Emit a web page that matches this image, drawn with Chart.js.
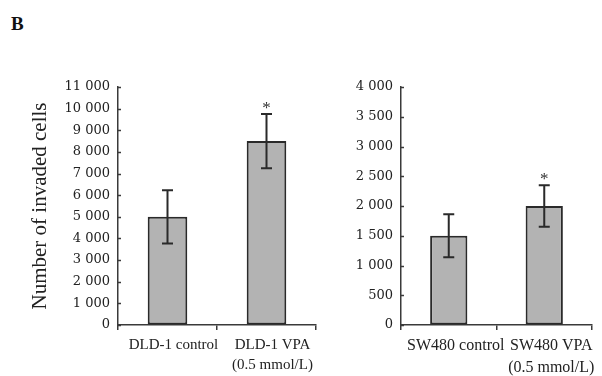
<!DOCTYPE html>
<html>
<head>
<meta charset="utf-8">
<script src="https://cdn.jsdelivr.net/npm/chart.js@4.4.1/dist/chart.umd.min.js"></script>
<style>
  body { margin: 0; background: #fff; }
  #wrap { position: relative; width: 602px; height: 376px; overflow: hidden; }
  #panel { position: absolute; left: 11px; top: 13px; font: bold 19px 'Liberation Serif', serif; color: #111; }
  #left { position: absolute; left: 0; top: 0; }
  #right { position: absolute; left: 330px; top: 0; }
</style>
</head>
<body>
<div id="wrap">
  <div id="panel">B</div>
  <canvas id="left" width="330" height="376"></canvas>
  <canvas id="right" width="272" height="376"></canvas>
</div>
<script>
// data
const dldLabels = ['DLD-1 control', ['DLD-1 VPA', '(0.5 mmol/L)']];
const dldMeans = [5000, 8500];
const dldErrors = [1230, 1250];
const dldSig = [false, true];

const swLabels = ['SW480 control', ['SW480 VPA', '(0.5 mmol/L)']];
const swMeans = [1500, 2000];
const swErrors = [360, 350];
const swSig = [false, true];

const dldAxis = { max: 11000, step: 1000 };
const swAxis = { max: 4000, step: 500 };

const axisColor = '#3a3a3a';
const serif = "'Liberation Serif', 'Times New Roman', serif";

function fmt(v) {
    if (v < 1000) return String(v);
    return Math.floor(v / 1000) + ' ' + String(v % 1000).padStart(3, '0');
}

// error bars, stars and inward y ticks
const extras = {
    id: 'extras',
    afterDatasetsDraw(chart) {
        const ctx = chart.ctx;
        const y = chart.scales.y;
        const ds = chart.data.datasets[0];
        const meta = chart.getDatasetMeta(0);
        ctx.save();
        ctx.strokeStyle = axisColor;
        ctx.lineWidth = 1.5;
        y.ticks.forEach(t => {
            const py = Math.round(y.getPixelForValue(t.value)) + 0.5;
            ctx.beginPath();
            ctx.moveTo(y.right, py);
            ctx.lineTo(y.right + 3, py);
            ctx.stroke();
        });
        ctx.strokeStyle = '#2a2a2a';
        ctx.lineWidth = 2;
        meta.data.forEach((bar, i) => {
            const v = ds.data[i], e = ds.errors[i];
            const top = y.getPixelForValue(v + e);
            const bot = y.getPixelForValue(v - e);
            ctx.beginPath();
            ctx.moveTo(bar.x, top); ctx.lineTo(bar.x, bot);
            ctx.moveTo(bar.x - 5.5, top); ctx.lineTo(bar.x + 5.5, top);
            ctx.moveTo(bar.x - 5.5, bot); ctx.lineTo(bar.x + 5.5, bot);
            ctx.stroke();
            if (ds.sig[i]) {
                ctx.fillStyle = '#333';
                ctx.font = '17px ' + serif;
                ctx.textAlign = 'center';
                ctx.textBaseline = 'middle';
                ctx.fillText('*', bar.x, top - 6);
            }
        });
        ctx.restore();
    }
};

function makeChart(id, labels, means, errors, sig, axis, opts) {
    return new Chart(document.getElementById(id), {
        type: 'bar',
        data: {
            labels: labels,
            datasets: [{
                data: means,
                errors: errors,
                sig: sig,
                backgroundColor: '#b3b3b3',
                borderColor: '#2a2a2a',
                borderWidth: 2,
                borderSkipped: false,
                barPercentage: opts.barPct,
                categoryPercentage: 1
            }]
        },
        options: {
            responsive: false,
            animation: false,
            layout: { padding: { top: 87, right: opts.padRight, bottom: 0, left: 0 } },
            plugins: { legend: { display: false }, tooltip: { enabled: false } },
            scales: {
                x: {
                    afterFit: s => { s.height = 51; },
                    grid: { offset: true, drawOnChartArea: false, tickLength: 5, color: axisColor, lineWidth: 1.5 },
                    border: { color: axisColor, width: 1.5 },
                    ticks: {
                        color: '#222',
                        padding: 5,
                        labelOffset: opts.labelOffset,
                        maxRotation: 0,
                        autoSkip: false,
                        font: { family: serif, size: opts.labelSize, lineHeight: 1.35 }
                    }
                },
                y: {
                    min: 0,
                    max: axis.max,
                    afterFit: s => { s.width = opts.yWidth; },
                    grid: { drawOnChartArea: false, drawTicks: false },
                    border: { color: axisColor, width: 1.5 },
                    ticks: {
                        stepSize: axis.step,
                        color: '#222',
                        padding: 8,
                        font: { family: "'DejaVu Serif', serif", size: 13 },
                        callback: v => fmt(v)
                    },
                    title: opts.title ? {
                        display: true,
                        text: opts.title,
                        color: '#222',
                        font: { family: serif, size: 21 },
                        padding: { top: 28, bottom: 0 }
                    } : { display: false }
                }
            }
        },
        plugins: [extras]
    });
}

makeChart('left', dldLabels, dldMeans, dldErrors, dldSig, dldAxis,
    { yWidth: 118, padRight: 14, barPct: 0.4, labelOffset: 6, labelSize: 15, title: 'Number of invaded cells' });
makeChart('right', swLabels, swMeans, swErrors, swSig, swAxis,
    { yWidth: 71, padRight: 10, barPct: 0.39, labelOffset: 7, labelSize: 16, title: null });
</script>
</body>
</html>
